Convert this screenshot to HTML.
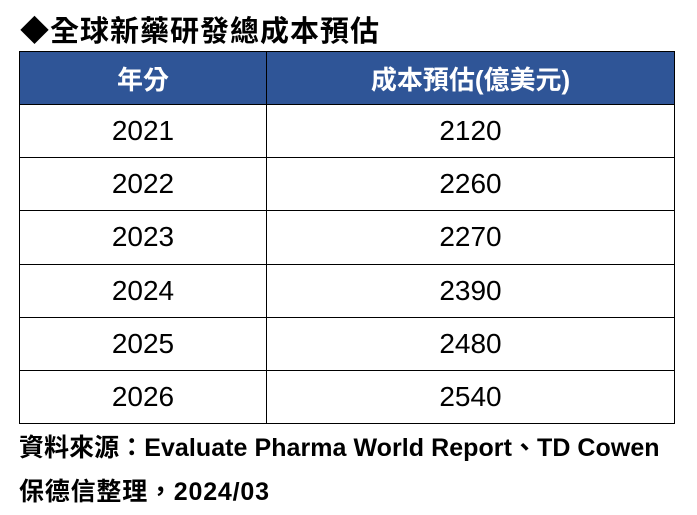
<!DOCTYPE html>
<html><head><meta charset="utf-8"><style>
body{margin:0;width:697px;height:515px;background:#fff;position:relative;overflow:hidden;font-family:"Liberation Sans","Noto Sans CJK TC",sans-serif;}
.t{position:absolute;white-space:nowrap;}
table{position:absolute;left:19px;top:51px;border-collapse:collapse;width:656px;}
td{border:1.5px solid #000;height:52.2px;padding:0;text-align:center;font-size:28px;color:#000;}
th{background:#2f5597;color:#fff;border:1.5px solid #000;height:52px;font-size:26px;font-weight:bold;padding:0;}
</style></head><body>
<div class="t" style="left:20px;top:14px;font-size:29px;font-weight:bold;line-height:36px;letter-spacing:1px;">◆全球新藥研發總成本預估</div>
<table>
<tr><th style="width:246px">年分</th><th>成本預估(億美元)</th></tr>
<tr><td>2021</td><td>2120</td></tr>
<tr><td>2022</td><td>2260</td></tr>
<tr><td>2023</td><td>2270</td></tr>
<tr><td>2024</td><td>2390</td></tr>
<tr><td>2025</td><td>2480</td></tr>
<tr><td>2026</td><td>2540</td></tr>
</table>
<div class="t" style="left:19px;top:432px;font-size:25px;font-weight:bold;line-height:32px;letter-spacing:0.05px;">資料來源：Evaluate Pharma World Report、TD Cowen</div>
<div class="t" style="left:19px;top:476px;font-size:25px;font-weight:bold;line-height:32px;letter-spacing:0.8px;">保德信整理，2024/03</div>
</body></html>
